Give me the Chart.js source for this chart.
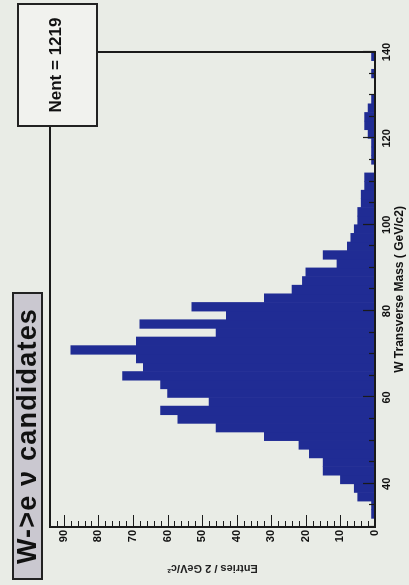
<!DOCTYPE html>
<html>
<head>
<meta charset="utf-8">
<script src="https://cdn.jsdelivr.net/npm/chart.js@4.4.0/dist/chart.umd.min.js"></script>
<style>
    html, body { margin: 0; padding: 0; background: #e9ece6; overflow: hidden; }
    /* the plot is drawn upright and the whole sheet is turned a quarter left */
    #sheet {
        position: absolute; left: 0; top: 0;
        width: 585px; height: 409px;
        transform-origin: 0 0;
        transform: translate(0, 585px) rotate(-90deg);
    }
    #histo { position: absolute; left: 0; top: 0; }
    .title-box {
        position: absolute; left: 5px; top: 12px; width: 288px; height: 31px;
        box-sizing: border-box; border: 2px solid #222; background: #cac8d0;
        font: bold 27px "Liberation Sans", Arial, sans-serif; line-height: 27px;
        letter-spacing: 1.2px;
        text-align: center; color: #111; white-space: nowrap;
    }
    .stats-box {
        position: absolute; left: 458px; top: 17px; width: 124px; height: 81px;
        box-sizing: border-box; border: 2px solid #222; background: #f1f2ee;
        font: bold 17px "Liberation Sans", Arial, sans-serif; color: #111;
        display: flex; align-items: center; justify-content: center;
        padding-bottom: 4px;
    }
</style>
</head>
<body>
<div id="sheet">
    <canvas id="histo" width="585" height="409"></canvas>
    <div class="title-box">W-&gt;e &nu; candidates</div>
    <div class="stats-box">Nent = 1219</div>
</div>
<script>
// W transverse mass, 2 GeV bins (bin centres)
const massBins = [31, 33, 35, 37, 39, 41, 43, 45, 47, 49,
                  51, 53, 55, 57, 59, 61, 63, 65, 67, 69,
                  71, 73, 75, 77, 79, 81, 83, 85, 87, 89,
                  91, 93, 95, 97, 99, 101, 103, 105, 107, 109,
                  111, 113, 115, 117, 119, 121, 123, 125, 127, 129,
                  131, 133, 135, 137, 139];
const entries = [0, 1, 1, 5, 6, 10, 15, 15, 19, 22,
                 32, 46, 57, 62, 48, 60, 62, 73, 67, 69,
                 88, 69, 46, 68, 43, 53, 32, 24, 21, 20,
                 11, 15, 8, 7, 6, 5, 5, 4, 4, 3,
                 3, 0, 1, 1, 1, 2, 3, 3, 2, 1,
                 0, 0, 1, 0, 1];
const massTicks = [40, 60, 80, 100, 120, 140];
const entryTicks = [0, 10, 20, 30, 40, 50, 60, 70, 80, 90];

const labelFont = { family: '"Liberation Sans", Arial, sans-serif', size: 11, weight: 'bold' };

// ROOT style frame with inward ticks
const frameTicks = {
    id: 'frameTicks',
    afterDatasetsDraw(chart) {
        const ctx = chart.ctx;
        const a = chart.chartArea;
        const xs = chart.scales.x;
        const ys = chart.scales.y;
        ctx.save();
        ctx.strokeStyle = '#1a1a1a';
        ctx.lineWidth = 1.2;
        ctx.beginPath();
        for (let v = 0; v <= ys.max; v += 2) {
            const y = Math.round(ys.getPixelForValue(v)) + 0.5;
            const len = v % 10 === 0 ? 12 : 6;
            ctx.moveTo(a.left, y);
            ctx.lineTo(a.left + len, y);
        }
        for (let m = 30; m <= xs.max; m += 5) {
            const x = Math.round(xs.getPixelForValue(m)) + 0.5;
            const len = m % 20 === 0 ? 12 : 6;
            ctx.moveTo(x, a.bottom);
            ctx.lineTo(x, a.bottom - len);
        }
        ctx.stroke();
        ctx.lineWidth = 2;
        ctx.strokeRect(a.left, a.top, a.right - a.left, a.bottom - a.top);
        ctx.restore();
    }
};

new Chart(document.getElementById('histo'), {
    type: 'bar',
    data: {
        datasets: [{
            data: massBins.map((m, i) => ({ x: m, y: entries[i] })),
            backgroundColor: '#202c94',
            borderWidth: 0,
            barPercentage: 1,
            categoryPercentage: 1
        }]
    },
    options: {
        responsive: false,
        animation: false,
        devicePixelRatio: 1,
        layout: { padding: { top: 50, right: 52, left: 0, bottom: 0 } },
        plugins: {
            legend: { display: false },
            tooltip: { enabled: false }
        },
        scales: {
            x: {
                type: 'linear',
                min: 30,
                max: 140,
                offset: false,
                grid: { display: false, drawTicks: false },
                border: { display: false },
                afterBuildTicks: function(scale) {
                    scale.ticks = massTicks.map(v => ({ value: v }));
                },
                afterFit: function(scale) {
                    scale.height = 34;
                },
                ticks: { padding: 5, color: '#111', font: labelFont, maxRotation: 0, autoSkip: false },
                title: {
                    display: true,
                    text: 'W Transverse Mass ( GeV/c2)',
                    color: '#111',
                    font: { family: '"Liberation Sans", Arial, sans-serif', size: 12, weight: 'bold' },
                    padding: { top: 0, bottom: 2 }
                }
            },
            y: {
                min: 0,
                max: 94,
                grid: { display: false, drawTicks: false },
                border: { display: false },
                afterBuildTicks: function(scale) {
                    scale.ticks = entryTicks.map(v => ({ value: v }));
                },
                afterFit: function(scale) {
                    scale.width = 58;
                },
                ticks: { padding: 3, color: '#111', font: labelFont, autoSkip: false },
                title: {
                    display: true,
                    text: 'Entries / 2 GeV/c\u00b2',
                    color: '#222',
                    font: { family: '"Liberation Sans", Arial, sans-serif', size: 11, weight: 'bold' },
                    padding: { top: 10, bottom: 0 }
                }
            }
        }
    },
    plugins: [frameTicks]
});
</script>
</body>
</html>
